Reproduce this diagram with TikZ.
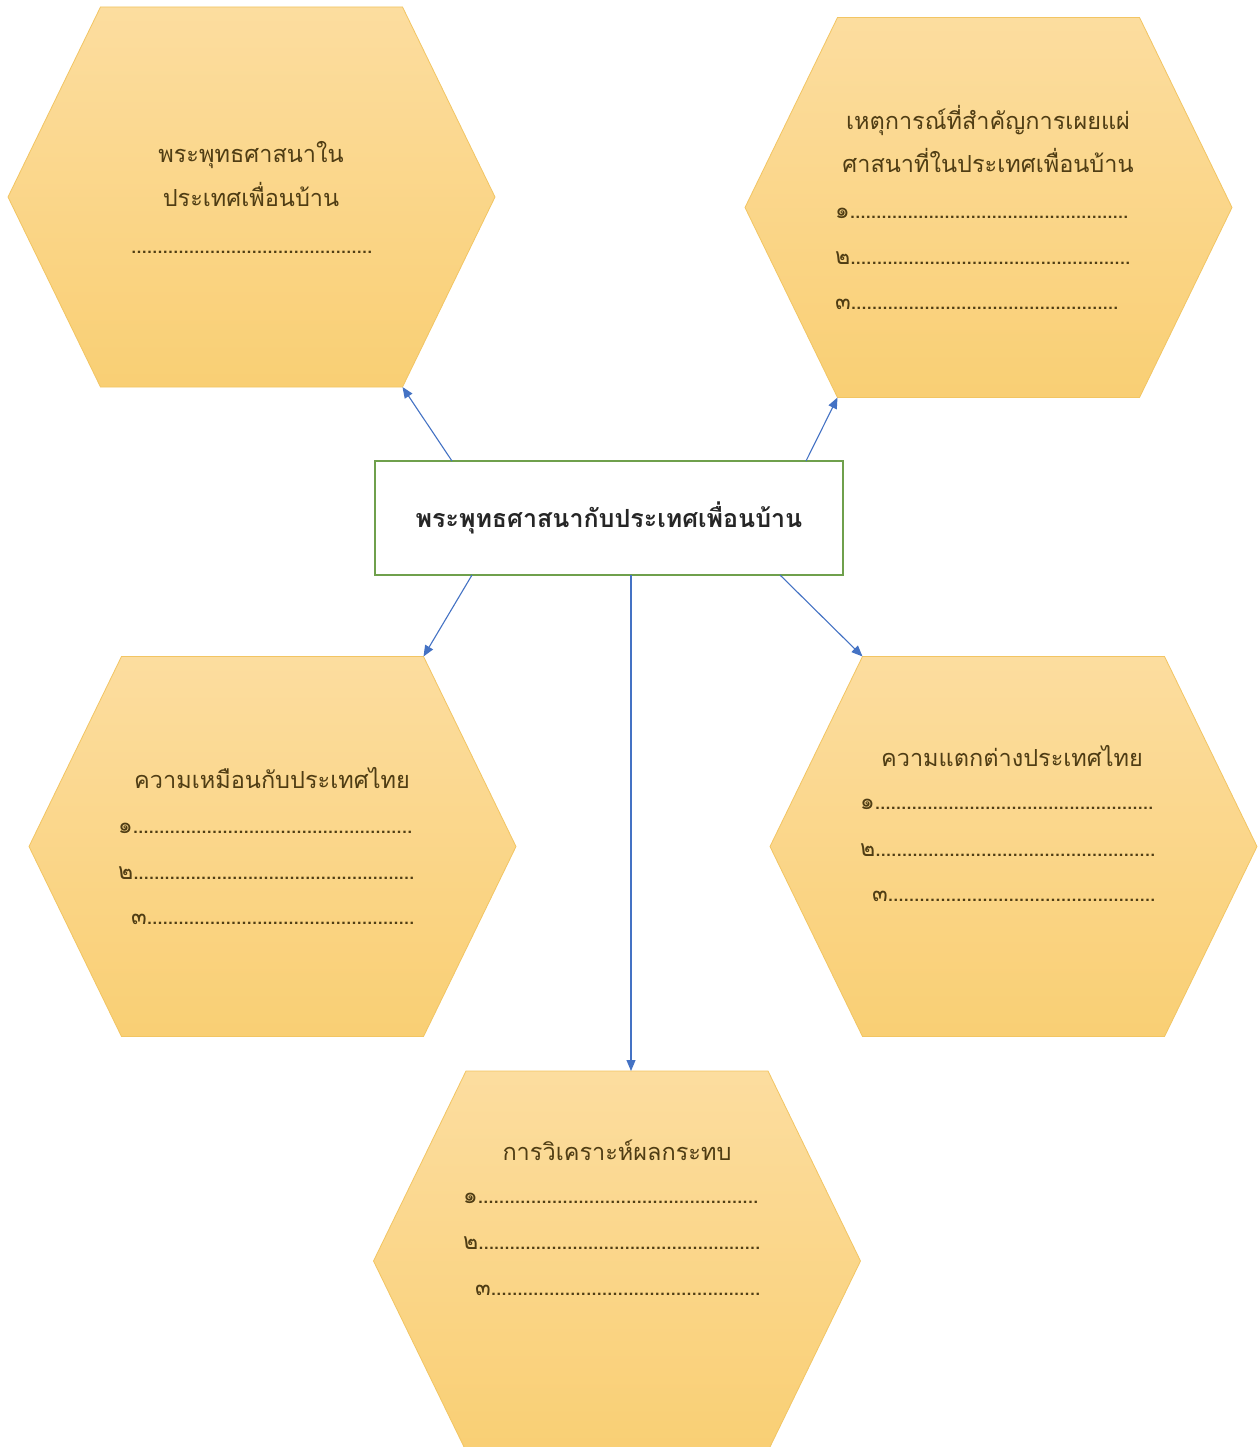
\documentclass[tikz,border=0pt]{standalone}
\usepackage{fontspec}
\setmainfont[Script=Thai]{Loma}
\usetikzlibrary{arrows.meta}
\definecolor{hextop}{HTML}{FCDD9F}
\definecolor{hexbot}{HTML}{F9CF74}
\definecolor{hexline}{HTML}{F2C563}
\definecolor{txt}{HTML}{4F3D14}
\definecolor{arr}{HTML}{4472C4}
\definecolor{boxline}{HTML}{6FA04C}
\newcommand\drawhex[3]{%
  \shade[top color=hextop,bottom color=hexbot,draw=hexline,line width=0.8]
    (#2-151,#3-190) -- (#2+151,#3-190) -- (#2+243.5,#3) -- (#2+151,#3+190)
    -- (#2-151,#3+190) -- (#2-243.5,#3) -- cycle;
  \coordinate (#1-tl) at (#2-151,#3-190);
  \coordinate (#1-tr) at (#2+151,#3-190);
  \coordinate (#1-bl) at (#2-151,#3+190);
  \coordinate (#1-br) at (#2+151,#3+190);
  \coordinate (#1-t) at (#2+14,#3-190);
}
\newcommand\dotlead{\xleaders\hbox to 5.2pt{\hss.\hss}\hfill}
\newcommand\itemrow[2]{\makebox[#1pt][l]{#2\dotlead}}
\tikzset{
  ttl/.style={anchor=base,text=txt,font=\fontsize{23.5}{27}\selectfont,inner sep=0pt},
  itm/.style={anchor=base west,text=txt,font=\fontsize{23}{27}\selectfont,inner sep=0pt},
  conn/.style={draw=arr,line width=1.1pt,-{Triangle[length=11pt,width=9pt]}},
  centerbox/.style={draw=boxline,line width=1.8pt,fill=white,minimum width=468pt,minimum height=114pt,inner sep=0pt,
    font=\fontsize{25}{29}\bfseries\selectfont,text=black!85}
}
\begin{document}
\begin{tikzpicture}[x=1pt,y=-1pt]
\useasboundingbox[fill=white] (0,0) rectangle (1258,1447);

\drawhex{h1}{251.5}{197}
\drawhex{h2}{988.5}{207.5}
\drawhex{h3}{272.5}{846.5}
\drawhex{h4}{1013.5}{846.5}
\drawhex{h5}{617}{1261}

% hex 1
\node[ttl] (h1a) at (251,163) {พระพุทธศาสนาใน};
\node[ttl] (h1b) at (251,207) {ประเทศเพื่อนบ้าน};
\node[itm] (h1d) at (131,254) {\itemrow{241}{}};

% hex 2
\node[ttl] (h2a) at (988,130) {เหตุการณ์ที่สำคัญการเผยแผ่};
\node[ttl] (h2b) at (988,173) {ศาสนาที่ในประเทศเพื่อนบ้าน};
\node[itm] (h2i1) at (835,219) {\itemrow{293}{๑}};
\node[itm] (h2i2) at (835,264) {\itemrow{295}{๒}};
\node[itm] (h2i3) at (835,309) {\itemrow{283}{๓}};

% hex 3
\node[ttl] (h3a) at (272,788) {ความเหมือนกับประเทศไทย};
\node[itm] (h3i1) at (118,833) {\itemrow{294}{๑}};
\node[itm] (h3i2) at (118,879) {\itemrow{296}{๒}};
\node[itm] (h3i3) at (131,924) {\itemrow{283}{๓}};

% hex 4
\node[ttl] (h4a) at (1012,766) {ความแตกต่างประเทศไทย};
\node[itm] (h4i1) at (860,809) {\itemrow{293}{๑}};
\node[itm] (h4i2) at (860,856) {\itemrow{295}{๒}};
\node[itm] (h4i3) at (872,901) {\itemrow{283}{๓}};

% hex 5
\node[ttl] (h5a) at (617,1160) {การวิเคราะห์ผลกระทบ};
\node[itm] (h5i1) at (463,1203) {\itemrow{295}{๑}};
\node[itm] (h5i2) at (463,1249) {\itemrow{297}{๒}};
\node[itm] (h5i3) at (475,1295) {\itemrow{285}{๓}};

% centre box
\node[centerbox] (c) at (609,518) {พระพุทธศาสนากับประเทศเพื่อนบ้าน};
\coordinate (c1) at (452,461);
\coordinate (c2) at (806,461);
\coordinate (c3) at (472,575);
\coordinate (c4) at (780,575);
\coordinate (c5) at (631,575);

\draw[conn] (c1) -- (h1-br);
\draw[conn] (c2) -- (h2-bl);
\draw[conn] (c3) -- (h3-tr);
\draw[conn] (c4) -- (h4-tl);
\draw[conn] (c5) -- (h5-t);
\end{tikzpicture}
\end{document}
